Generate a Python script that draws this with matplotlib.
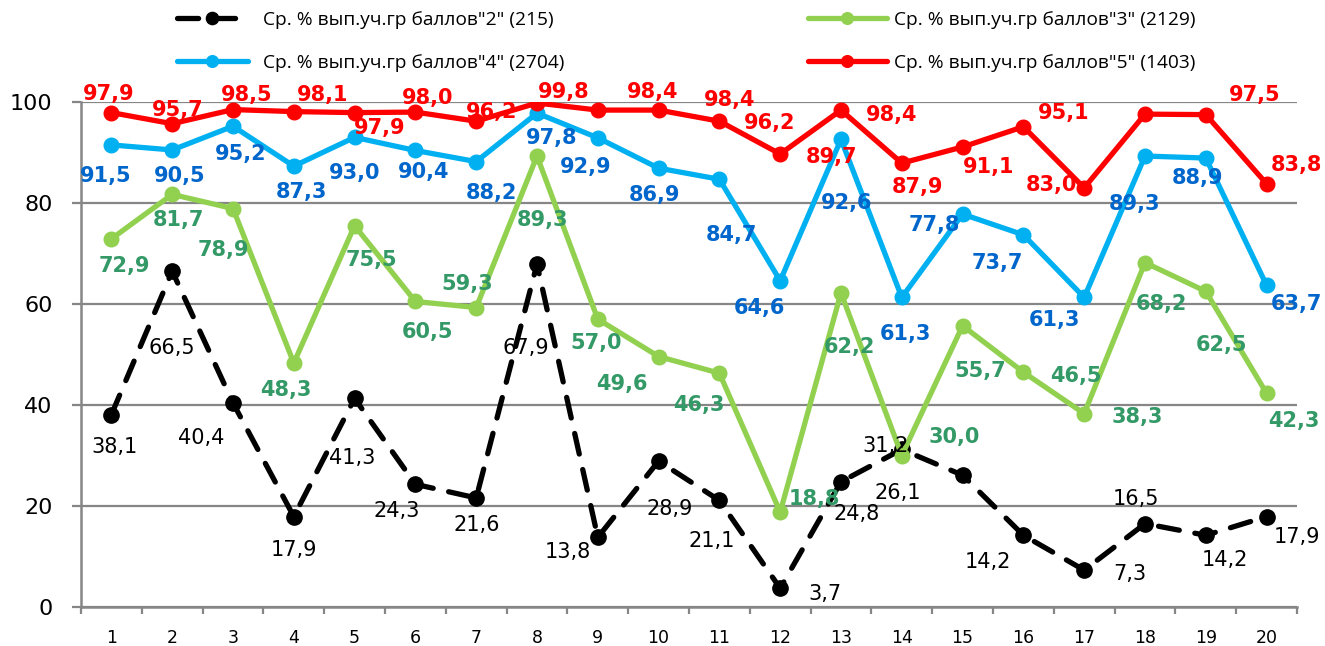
import matplotlib
matplotlib.use("Agg")
import matplotlib.pyplot as plt
from matplotlib.ticker import FixedLocator

# ---------------- data ----------------
categories = list(range(1, 21))
series_names = ['Ср. % вып.уч.гр баллов"2" (215)',
                'Ср. % вып.уч.гр баллов"3" (2129)',
                'Ср. % вып.уч.гр баллов"4" (2704)',
                'Ср. % вып.уч.гр баллов"5" (1403)']
s2 = [38.1, 66.5, 40.4, 17.9, 41.3, 24.3, 21.6, 67.9, 13.8, 28.9,
      21.1, 3.7, 24.8, 31.2, 26.1, 14.2, 7.3, 16.5, 14.2, 17.9]
s3 = [72.9, 81.7, 78.9, 48.3, 75.5, 60.5, 59.3, 89.3, 57.0, 49.6,
      46.3, 18.8, 62.2, 30.0, 55.7, 46.5, 38.3, 68.2, 62.5, 42.3]
s4 = [91.5, 90.5, 95.2, 87.3, 93.0, 90.4, 88.2, 97.8, 92.9, 86.9,
      84.7, 64.6, 92.6, 61.3, 77.8, 73.7, 61.3, 89.3, 88.9, 63.7]
s5 = [97.9, 95.7, 98.5, 98.1, 97.9, 98.0, 96.2, 99.8, 98.4, 98.4,
      96.2, 89.7, 98.4, 87.9, 91.1, 95.1, 83.0, 97.6, 97.5, 83.8]
y_ticks = [0, 20, 40, 60, 80, 100]

# ---------------- label placement (pixel offsets, +dy = downwards) ----------------
off2 = [(3, 32), (0, 77), (-32, 35), (0, 33), (-2, 60), (-19, 27), (1, 27), (-11, 84), (-30, 15), (11, 48),
        (-8, 41), (45, 6), (16, 32), (-16, -3), (-65, 18), (-36, 27), (46, 4), (-9, -25), (19, 25), (30, 20)]
off3 = [(13, 27), (6, 26), (-10, 41), (-8, 27), (17, 34), (12, 31), (-9, -24), (5, 64), (-2, 24), (-37, 27),
        (-21, 32), (34, -13), (8, 54), (52, -18), (18, 45), (52, 4), (53, 3), (16, 41), (16, 54), (27, 28)]
off4 = [(-6, 31), (7, 26), (8, 28), (8, 26), (0, 36), (8, 22), (15, 31), (15, 25), (-12, 29), (-4, 27),
        (12, 56), (-21, 27), (6, 64), (4, 37), (-28, 11), (-26, 28), (-30, 23), (-11, 48), (-8, 20), (30, 19)]
off5 = [(-3, -19), (5, -14), (14, -15), (29, -17), (25, 15), (12, -14), (15, -9), (27, -11), (55, -18), (71, -10),
        (50, 2), (51, 3), (51, 5), (16, 24), (26, 20), (40, -14), (-33, -3), None, (49, -20), (30, -19)]

W, H = 1325, 646
fig = plt.figure(figsize=(W / 100, H / 100), dpi=100)
ax = fig.add_axes([81 / W, 1 - 607 / H, (1297 - 81) / W, (607 - 102) / H])

grid_col = '#868686'
styles = [
    dict(color='black', lw=3.8, ls=(0, (4.0, 3.0)), ms=11, lab_col='black', weight='normal'),
    dict(color='#92D050', lw=3.8, ls='-', ms=10.5, lab_col='#339966', weight='bold'),
    dict(color='#00B0F0', lw=3.8, ls='-', ms=10.5, lab_col='#0066CC', weight='bold'),
    dict(color='#FF0000', lw=3.8, ls='-', ms=10.5, lab_col='#FF0000', weight='bold'),
]
all_series = [s2, s3, s4, s5]
all_offs = [off2, off3, off4, off5]

handles = []
for k, (vals, st) in enumerate(zip(all_series, styles)):
    h, = ax.plot(categories, vals, color=st['color'], lw=st['lw'], ls=st['ls'],
                 marker='o', ms=st['ms'], mfc=st['color'], mec=st['color'],
                 zorder=3 + k, solid_capstyle='round', dash_capstyle='round',
                 label=series_names[k])
    handles.append(h)

for k, (vals, offs, st) in enumerate(zip(all_series, all_offs, styles)):
    for x, v, o in zip(categories, vals, offs):
        if o is None:
            continue
        ax.annotate(f"{v:.1f}".replace('.', ','), (x, v), xytext=(o[0], -o[1]),
                    textcoords='offset pixels', ha='center', va='center',
                    fontsize=15, fontweight=st['weight'], color=st['lab_col'],
                    family='DejaVu Sans', zorder=20)

ax.set_xlim(0.5, 20.5)
ax.set_ylim(0, 100)
ax.set_yticks(y_ticks)
ax.yaxis.grid(True, color=grid_col, lw=1.6, zorder=0)
ax.set_axisbelow(True)
ax.set_xticks(categories)
ax.xaxis.set_minor_locator(FixedLocator([c - 0.5 for c in categories] + [categories[-1] + 0.5]))
ax.tick_params(axis='x', which='major', length=0, pad=16, labelsize=12.5)
ax.tick_params(axis='x', which='minor', length=5, width=1.6, color=grid_col, direction='out')
ax.tick_params(axis='y', which='major', length=6.5, width=1.6, color=grid_col, pad=14, labelsize=16)
for sp in ['top', 'right']:
    ax.spines[sp].set_visible(False)
for sp in ['left', 'bottom']:
    ax.spines[sp].set_color(grid_col)
    ax.spines[sp].set_linewidth(1.8)

leg_font = dict(family=['Open Sans', 'DejaVu Sans'], size=13.8)
leg1 = fig.legend([handles[0], handles[2]], [series_names[0], series_names[2]],
                  loc='upper left', bbox_to_anchor=(177 / W, 1 - 11 / H),
                  frameon=False, borderpad=0, borderaxespad=0, handlelength=3.7,
                  handletextpad=0.8, labelspacing=1.3, prop=leg_font, markerscale=0.8)
leg2 = fig.legend([handles[1], handles[3]], [series_names[1], series_names[3]],
                  loc='upper left', bbox_to_anchor=(808 / W, 1 - 11 / H),
                  frameon=False, borderpad=0, borderaxespad=0, handlelength=4.1,
                  handletextpad=0.4, labelspacing=1.3, prop=leg_font, markerscale=0.8)

fig.savefig('out.png', dpi=100)
